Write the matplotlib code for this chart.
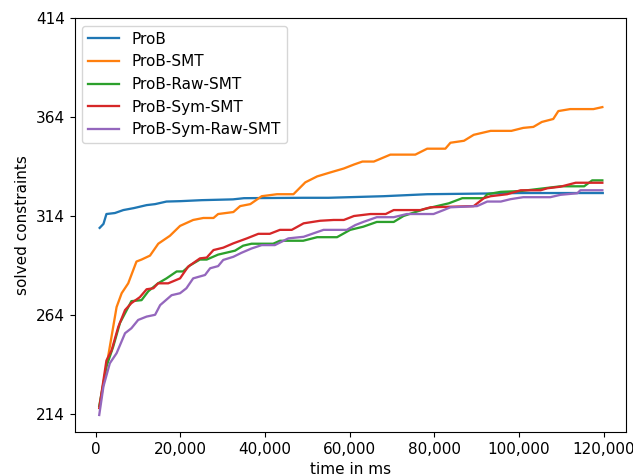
import matplotlib.pyplot as plt
from matplotlib.ticker import FuncFormatter

# time in ms / solved constraints
t_prob = [900, 1800, 2500, 4500, 6500, 9000, 12000, 14000, 16700, 20000, 25000, 32400, 35000,
          49000, 55000, 68000, 78300, 90000, 100000, 110000, 119800]
v_prob = [308, 310, 315, 315.5, 317, 318, 319.5, 320, 321.3, 321.5, 322, 322.4, 323,
          323.2, 323.2, 324, 325, 325.3, 325.6, 325.6, 325.6]

t_smt = [900, 2500, 4900, 6100, 7650, 9600, 10800, 12800, 14750, 17500, 19900, 23000, 25400,
         27800, 28900, 32500, 34100, 36500, 39200, 42800, 46700, 49500, 52300, 55400, 58600,
         61000, 63000, 65700, 69600, 75500, 78300, 82600, 83800, 87000, 89300, 93300, 98200,
         101000, 103400, 105400, 108100, 109300, 112100, 117600, 119700]
v_smt = [218, 238, 268, 275, 280, 291, 292, 294, 300, 304, 309, 312, 313,
         313, 315, 316, 319, 320, 324, 325, 325, 331, 334, 336, 338,
         340, 341.5, 341.5, 345, 345, 348, 348, 351, 352, 355, 357, 357,
         358.5, 359, 361.5, 363, 367, 368, 368, 369]

t_raw = [800, 2500, 4100, 5700, 7300, 8400, 10800, 12400, 14700, 16700, 19100, 20600, 22200,
         24600, 26200, 28900, 30900, 32900, 34800, 36800, 41900, 43500, 49000, 52300, 57000,
         60100, 63200, 66400, 70400, 72700, 77500, 80600, 83400, 86600, 91700, 92500, 95700,
         100400, 105900, 109800, 115400, 117300, 119700]
v_raw = [218, 238, 248, 260, 266.5, 271, 271.5, 276, 280, 282.5, 286, 286, 289,
         292, 292, 294.5, 295.5, 296.5, 299, 300, 300, 301.5, 301.5, 303.3, 303.3,
         307, 308.6, 311, 311, 314, 317.4, 319, 320.4, 323, 323, 325, 326.2,
         326.6, 328, 329, 329, 332, 332]

t_sym = [800, 2500, 3700, 5300, 6900, 8400, 10400, 12000, 13600, 14700, 17100, 19900, 21800,
         24600, 26200, 27800, 30100, 32500, 35700, 38400, 41100, 43500, 46300, 49100, 53000,
         56200, 58600, 61000, 64900, 68500, 70400, 76700, 79100, 89300, 91700, 93300, 97200,
         100400, 105100, 106700, 109800, 113400, 119700]
v_sym = [217, 241, 246, 258, 266.5, 270, 273, 277, 277.5, 280, 280, 282.5, 288.4,
         292.6, 293, 296.8, 298, 300.2, 302.7, 305, 305, 307, 307, 310.3, 311.6,
         312, 312, 314, 315, 315, 317, 317, 318.4, 319, 323, 324, 325,
         327, 327, 328, 328.8, 330.8, 330.8]

t_symraw = [800, 1800, 3300, 4900, 6900, 8400, 10000, 12000, 14000, 15200, 17900, 19900, 21400,
            23000, 25800, 27000, 28900, 30100, 32500, 34400, 36800, 39200, 42300, 45500, 49100,
            53800, 59300, 61300, 63200, 66400, 70400, 73500, 79800, 82200, 83800, 90100, 92500,
            95700, 98000, 101000, 107400, 109800, 113800, 114500, 119700]
v_symraw = [213.5, 228, 239.6, 244.7, 254.8, 257.3, 261.5, 263.2, 264.1, 269, 274, 275, 277.5,
            282.5, 284.2, 287.6, 288.7, 291.8, 293.4, 295.4, 297.6, 299.3, 299.3, 302.7, 303.5,
            307, 307, 309.4, 311, 313.4, 313.4, 315, 315, 317, 318.4, 319, 321.3,
            321.3, 322.5, 323.5, 323.5, 324.7, 325.5, 327, 327]

y_ticks = [214, 264, 314, 364, 414]

plt.rcParams['font.size'] = 11
plt.rcParams['lines.linewidth'] = 1.65

fig = plt.figure(figsize=(6.33, 4.74), dpi=100)
ax = fig.add_axes([0.118, 0.089, 0.871, 0.873])

ax.plot(t_prob, v_prob, label='ProB')
ax.plot(t_smt, v_smt, label='ProB-SMT')
ax.plot(t_raw, v_raw, label='ProB-Raw-SMT')
ax.plot(t_sym, v_sym, label='ProB-Sym-SMT')
ax.plot(t_symraw, v_symraw, label='ProB-Sym-Raw-SMT')

ax.set_yticks(y_ticks)
ax.set_ylim(205, 414)
ax.set_xlim(-5000, 125300)
ax.xaxis.set_major_formatter(FuncFormatter(lambda x, p: '{:,.0f}'.format(x)))
ax.set_xlabel('time in ms')
ax.set_ylabel('solved constraints')
ax.legend(loc='upper left')

fig.savefig('out.png')
